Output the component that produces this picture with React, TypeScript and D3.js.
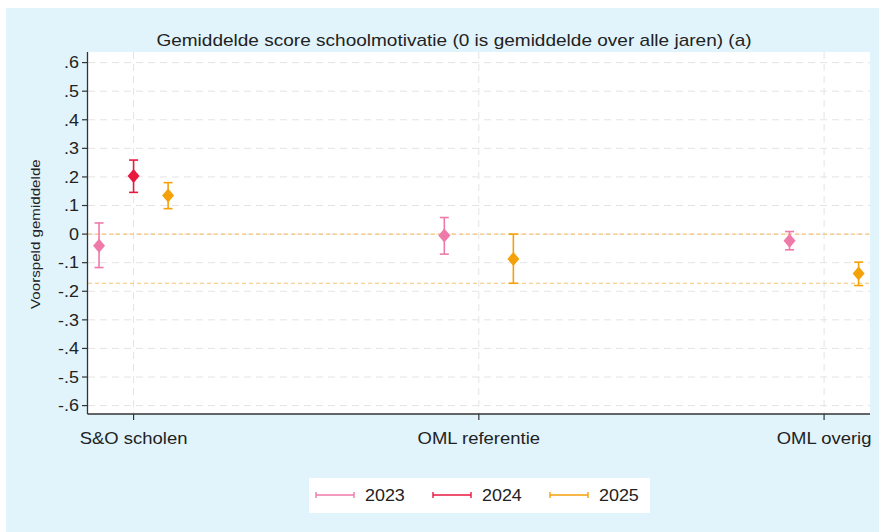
import React from "react";
import * as d3 from "d3";

const categories = ["S&O scholen", "OML referentie", "OML overig"];
const years = ["2023", "2024", "2025"];
const yearColors = ["#ee7aa9", "#e8193f", "#f5a10a"];
const yearOffsets = [-0.1, 0, 0.1];

// per year, per category: [mean, lower, upper] (null = missing)
const values2023 = [
  [-0.041, -0.117, 0.039],
  [-0.005, -0.07, 0.058],
  [-0.023, -0.055, 0.009],
];
const values2024 = [[0.203, 0.146, 0.259], null, null];
const values2025 = [
  [0.135, 0.089, 0.18],
  [-0.087, -0.172, 0.0],
  [-0.138, -0.18, -0.098],
];
const refLines = [0, -0.172];
const yTicks = [0.6, 0.5, 0.4, 0.3, 0.2, 0.1, 0, -0.1, -0.2, -0.3, -0.4, -0.5, -0.6];

const W = 879;
const H = 532;
const plot = { left: 88, right: 870, top: 52, bottom: 414 };
const font = "'Liberation Sans', Arial, sans-serif";
const SX = 1.12; // text is a bit wider in the original

const fmt = (v: number) => {
  if (Math.abs(v) < 1e-9) return "0";
  return v.toFixed(1).replace("0.", ".");
};

const diamondPath = (w: number, h: number) => {
  const path = d3.path();
  path.moveTo(0, -h / 2);
  path.lineTo(w / 2, 0);
  path.lineTo(0, h / 2);
  path.lineTo(-w / 2, 0);
  path.closePath();
  return path.toString();
};

const T: React.FC<{
  x: number;
  y: number;
  size: number;
  anchor?: string;
  dy?: string;
  rotate?: number;
  children: React.ReactNode;
}> = ({ x, y, size, anchor = "start", dy, rotate = 0, children }) => (
  <text
    transform={`translate(${x},${y}) rotate(${rotate}) scale(${SX},1)`}
    textAnchor={anchor}
    dy={dy}
    fontSize={size}
    fill="#222"
  >
    {children}
  </text>
);

const App: React.FC = () => {
  const x = d3
    .scaleLinear()
    .domain([0.868, 3.133])
    .range([plot.left, plot.right]);
  const y = d3.scaleLinear().domain([-0.6, 0.6]).range([405.6, 62.6]);

  const series = [values2023, values2024, values2025];
  const marker = diamondPath(12, 14);

  return (
    <svg
      width={W}
      height={H}
      style={{ position: "absolute", left: 0, top: 0 }}
      fontFamily={font}
    >
      <rect x={0} y={0} width={W} height={H} fill="#ffffff" />
      <rect x={6} y={8} width={W - 6} height={H - 8} fill="#e1f4fc" />
      <rect
        x={plot.left}
        y={plot.top}
        width={plot.right - plot.left}
        height={plot.bottom - plot.top}
        fill="#ffffff"
      />
      {/* grid */}
      {yTicks.map((t) => (
        <line
          key={"gy" + t}
          x1={plot.left}
          x2={plot.right}
          y1={y(t)}
          y2={y(t)}
          stroke="#e4e4e4"
          strokeWidth={1}
          strokeDasharray="7,5"
        />
      ))}
      {categories.map((c, i) => (
        <line
          key={"gx" + c}
          x1={x(i + 1)}
          x2={x(i + 1)}
          y1={plot.top}
          y2={plot.bottom}
          stroke="#e4e4e4"
          strokeWidth={1}
          strokeDasharray="7,5"
        />
      ))}
      {/* reference lines */}
      {refLines.map((r) => (
        <line
          key={"r" + r}
          x1={plot.left}
          x2={plot.right}
          y1={y(r)}
          y2={y(r)}
          stroke="#f7c274"
          strokeWidth={1.2}
          strokeDasharray="4,3"
        />
      ))}
      {/* error bars and points */}
      {series.map((vals, s) =>
        vals.map((v, i) => {
          if (!v) return null;
          const cx = x(i + 1 + yearOffsets[s]);
          const col = yearColors[s];
          return (
            <g key={`p${s}-${i}`}>
              <line x1={cx} x2={cx} y1={y(v[1])} y2={y(v[2])} stroke={col} strokeWidth={1.6} />
              <line x1={cx - 4.5} x2={cx + 4.5} y1={y(v[1])} y2={y(v[1])} stroke={col} strokeWidth={1.6} />
              <line x1={cx - 4.5} x2={cx + 4.5} y1={y(v[2])} y2={y(v[2])} stroke={col} strokeWidth={1.6} />
              <path d={marker} transform={`translate(${cx},${y(v[0])})`} fill={col} />
            </g>
          );
        })
      )}
      {/* axes */}
      <line x1={plot.left - 0.5} x2={plot.left - 0.5} y1={plot.top} y2={plot.bottom} stroke="#333" strokeWidth={1.3} />
      <line x1={plot.left - 0.5} x2={plot.right} y1={plot.bottom} y2={plot.bottom} stroke="#333" strokeWidth={1.3} />
      {yTicks.map((t) => (
        <g key={"ty" + t}>
          <line x1={plot.left - 6} x2={plot.left} y1={y(t)} y2={y(t)} stroke="#333" strokeWidth={1.2} />
          <T x={plot.left - 9} y={y(t)} dy="0.36em" anchor="end" size={16}>
            {fmt(t)}
          </T>
        </g>
      ))}
      {categories.map((c, i) => (
        <g key={"tx" + c}>
          <line x1={x(i + 1)} x2={x(i + 1)} y1={plot.bottom} y2={plot.bottom + 6} stroke="#333" strokeWidth={1.2} />
          <T x={x(i + 1)} y={444} anchor="middle" size={16.5}>
            {c}
          </T>
        </g>
      ))}
      <T x={40} y={y(0)} anchor="middle" size={13.5} rotate={-90}>
        Voorspeld gemiddelde
      </T>
      <T x={454} y={46} anchor="middle" size={17}>
        Gemiddelde score schoolmotivatie (0 is gemiddelde over alle jaren) (a)
      </T>
      {/* legend */}
      <rect x={309} y={478} width={341} height={35} fill="#ffffff" />
      {years.map((yr, i) => {
        const lx = 316 + i * 117;
        const ly = 495;
        return (
          <g key={"l" + yr}>
            <line x1={lx} x2={lx + 38} y1={ly} y2={ly} stroke={yearColors[i]} strokeWidth={1.6} />
            <line x1={lx} x2={lx} y1={ly - 3} y2={ly + 3} stroke={yearColors[i]} strokeWidth={1.4} />
            <line x1={lx + 38} x2={lx + 38} y1={ly - 3} y2={ly + 3} stroke={yearColors[i]} strokeWidth={1.4} />
            <T x={lx + 49} y={ly} dy="0.36em" size={16}>
              {yr}
            </T>
          </g>
        );
      })}
    </svg>
  );
};

export default App;
